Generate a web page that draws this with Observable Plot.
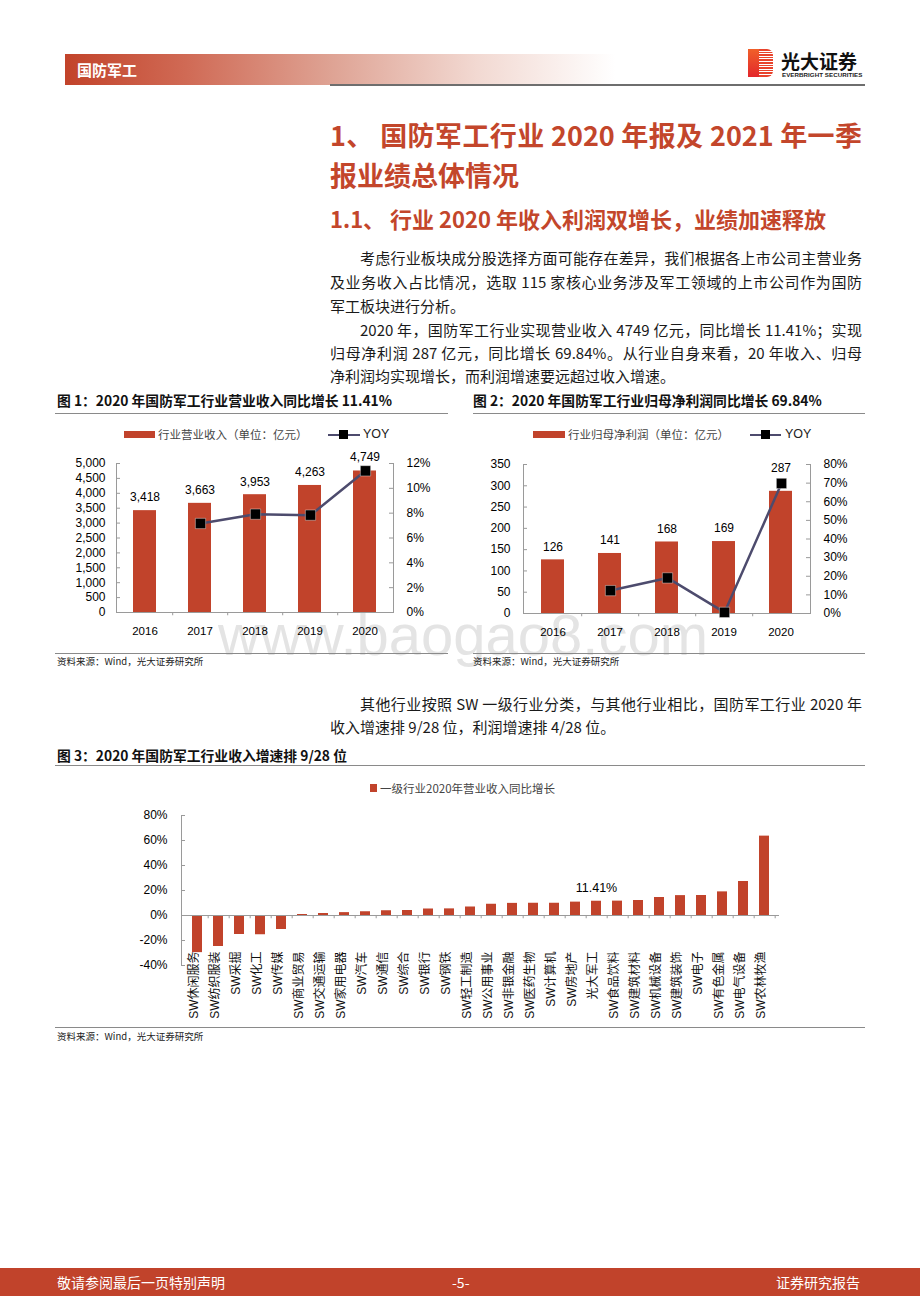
<!DOCTYPE html>
<html><head><meta charset="utf-8">
<script src="https://cdn.jsdelivr.net/npm/d3@7"></script>
<script src="https://cdn.jsdelivr.net/npm/@observablehq/plot@0.6"></script>
<style>
body{margin:0;background:#fff;}
#page{position:relative;width:920px;height:1302px;overflow:hidden;font-family:"Noto Sans CJK SC","Noto Sans",sans-serif;color:#111;}
.a{position:absolute;white-space:nowrap;}
.j{text-align:justify;text-align-last:justify;}
.body{font-size:15px;line-height:24px;color:#1a1a1a;}
.figt{font-size:13.8px;font-weight:bold;line-height:20px;color:#111;}
.rule{position:absolute;height:1px;background:#8a8a8a;}
.src{font-size:9.5px;line-height:14px;color:#222;}
.leg{font-size:11.5px;line-height:16px;color:#444;}
.chart{position:absolute;}
.chart svg{overflow:visible;}
</style></head>
<body><div id="page">
<!-- header -->
<div class="a" style="left:65px;top:54px;width:550px;height:31px;background:linear-gradient(to right,#c2432a 0%,#d06a55 22%,#dea293 48%,#f2d9d2 75%,#ffffff 100%);"></div>
<div class="a" style="left:77px;top:59px;font-size:15px;line-height:22px;font-weight:bold;color:#fff;">国防军工</div>
<div class="a" style="left:330px;top:84px;width:535px;height:1.5px;background:#6e6e6e;"></div>
<div class="a" style="left:748px;top:49px;width:11px;height:28px;background:linear-gradient(to bottom,#f0602a,#e3262b);"></div>
<div class="a" style="left:759px;top:49px;width:14px;height:28px;background:repeating-linear-gradient(to bottom,#e8432c 0px,#e8432c 1.6px,#ffffff 1.6px,#ffffff 2.6px);border-radius:0 6px 6px 0;"></div>
<div class="a" style="left:781px;top:49px;font-size:19px;line-height:24px;font-weight:bold;color:#111;">光大证券</div>
<div class="a" style="left:782px;top:71px;font-size:6.2px;line-height:8px;font-weight:bold;color:#222;font-family:'Liberation Sans',sans-serif;letter-spacing:0.05px;">EVERBRIGHT SECURITIES</div>

<!-- headings -->
<div class="a j" style="left:330px;top:115px;width:532px;font-size:27px;line-height:40px;font-weight:bold;color:#c3462b;">1、 国防军工行业 2020 年报及 2021 年一季</div>
<div class="a" style="left:330px;top:155px;font-size:27px;line-height:40px;font-weight:bold;color:#c3462b;">报业绩总体情况</div>
<div class="a" style="left:330px;top:202px;font-size:22px;line-height:32px;font-weight:bold;color:#c3462b;">1.1、 行业 2020 年收入利润双增长，业绩加速释放</div>

<!-- paragraphs -->
<div class="a body j" style="left:360px;top:246px;width:502px;">考虑行业板块成分股选择方面可能存在差异，我们根据各上市公司主营业务</div>
<div class="a body j" style="left:330px;top:270px;width:532px;">及业务收入占比情况，选取 115 家核心业务涉及军工领域的上市公司作为国防</div>
<div class="a body" style="left:330px;top:294px;">军工板块进行分析。</div>
<div class="a body j" style="left:360px;top:318px;width:502px;">2020 年，国防军工行业实现营业收入 4749 亿元，同比增长 11.41%；实现</div>
<div class="a body j" style="left:330px;top:341px;width:532px;">归母净利润 287 亿元，同比增长 69.84%。从行业自身来看，20 年收入、归母</div>
<div class="a body" style="left:330px;top:364px;">净利润均实现增长，而利润增速要远超过收入增速。</div>

<!-- watermark -->
<div class="a" style="left:218px;top:606px;font-size:58px;line-height:58px;color:#e4e4e4;font-family:'Liberation Sans',sans-serif;z-index:0;">www.baogao8.com</div>

<!-- figure 1 -->
<div class="a figt" style="left:57px;top:390px;">图 1：2020 年国防军工行业营业收入同比增长 11.41%</div>
<div class="rule" style="left:55px;top:413px;width:393px;"></div>
<div class="a" style="left:124px;top:431px;width:31px;height:7px;background:#c1432b;"></div>
<div class="a leg" style="left:158px;top:426px;">行业营业收入（单位：亿元）</div>
<div class="a" style="left:328px;top:434px;width:32px;height:2px;background:#4d4b6d;"></div>
<div class="a" style="left:339px;top:430px;width:9px;height:9px;background:#000;"></div>
<div class="a" style="left:363px;top:426px;font-size:12.5px;line-height:16px;color:#222;font-family:'Liberation Sans',sans-serif;">YOY</div>
<div class="chart" id="c1a" style="left:55px;top:445px;width:395px;height:200px;z-index:1;"></div>
<div class="chart" id="c1b" style="left:55px;top:445px;width:395px;height:200px;z-index:2;"></div>
<div class="rule" style="left:55px;top:653px;width:393px;"></div>
<div class="a src" style="left:57px;top:654px;">资料来源：Wind，光大证券研究所</div>

<!-- figure 2 -->
<div class="a figt" style="left:473px;top:390px;">图 2：2020 年国防军工行业归母净利润同比增长 69.84%</div>
<div class="rule" style="left:473px;top:413px;width:392px;"></div>
<div class="a" style="left:533px;top:431px;width:32px;height:7px;background:#c1432b;"></div>
<div class="a leg" style="left:568px;top:426px;">行业归母净利润（单位：亿元）</div>
<div class="a" style="left:750px;top:434px;width:31px;height:2px;background:#4d4b6d;"></div>
<div class="a" style="left:761px;top:430px;width:9px;height:9px;background:#000;"></div>
<div class="a" style="left:785px;top:426px;font-size:12.5px;line-height:16px;color:#222;font-family:'Liberation Sans',sans-serif;">YOY</div>
<div class="chart" id="c2a" style="left:465px;top:445px;width:400px;height:200px;z-index:1;"></div>
<div class="chart" id="c2b" style="left:465px;top:445px;width:400px;height:200px;z-index:2;"></div>
<div class="rule" style="left:473px;top:653px;width:392px;"></div>
<div class="a src" style="left:473px;top:654px;">资料来源：Wind，光大证券研究所</div>

<!-- paragraph 3 -->
<div class="a body j" style="left:360px;top:692px;width:502px;">其他行业按照 SW 一级行业分类，与其他行业相比，国防军工行业 2020 年</div>
<div class="a body" style="left:330px;top:715px;">收入增速排 9/28 位，利润增速排 4/28 位。</div>

<!-- figure 3 -->
<div class="a figt" style="left:57px;top:745px;">图 3：2020 年国防军工行业收入增速排 9/28 位</div>
<div class="rule" style="left:55px;top:765px;width:810px;"></div>
<div class="a" style="left:370px;top:784px;width:7px;height:8px;background:#c1432b;"></div>
<div class="a leg" style="left:380px;top:780px;">一级行业2020年营业收入同比增长</div>
<div class="chart" id="c3" style="left:55px;top:800px;width:810px;height:225px;z-index:1;"></div>
<div class="rule" style="left:55px;top:1027px;width:810px;"></div>
<div class="a src" style="left:57px;top:1029px;">资料来源：Wind，光大证券研究所</div>

<!-- footer -->
<div class="a" style="left:0;top:1268px;width:920px;height:28px;background:#c1432b;"></div>
<div class="a" style="left:57px;top:1272px;font-size:14px;line-height:20px;color:#fff;">敬请参阅最后一页特别声明</div>
<div class="a" style="left:452px;top:1272px;font-size:14px;line-height:20px;color:#fff;">-5-</div>
<div class="a" style="left:776px;top:1272px;font-size:14px;line-height:20px;color:#fff;">证券研究报告</div>
</div>

<script>
// ---------- data ----------
const years = ["2016", "2017", "2018", "2019", "2020"];
const revenue = [3418, 3663, 3953, 4263, 4749];
const revenueYoy = [null, 7.17, 7.92, 7.84, 11.41];
const profit = [126, 141, 168, 169, 287];
const profitYoy = [null, 12.3, 19.1, 0.6, 69.84];
const revTicks = [0, 500, 1000, 1500, 2000, 2500, 3000, 3500, 4000, 4500, 5000];
const revYoyTicks = [0, 2, 4, 6, 8, 10, 12];
const profitTicks = [0, 50, 100, 150, 200, 250, 300, 350];
const profitYoyTicks = [0, 10, 20, 30, 40, 50, 60, 70, 80];
const industries = ["SW休闲服务", "SW纺织服装", "SW采掘", "SW化工", "SW传媒", "SW商业贸易", "SW交通运输", "SW家用电器", "SW汽车", "SW通信", "SW综合", "SW银行", "SW钢铁", "SW轻工制造", "SW公用事业", "SW非银金融", "SW医药生物", "SW计算机", "SW房地产", "光大军工", "SW食品饮料", "SW建筑材料", "SW机械设备", "SW建筑装饰", "SW电子", "SW有色金属", "SW电气设备", "SW农林牧渔"];
const industryGrowth = [-29.7, -24.8, -15.2, -15.4, -11.2, 0.8, 1.6, 2.3, 3.0, 3.8, 4.0, 5.2, 5.3, 6.8, 9.0, 9.7, 9.8, 9.8, 10.7, 11.41, 11.5, 12.0, 14.4, 15.9, 16.0, 18.9, 27.2, 63.5];
const industryTicks = [-40, -20, 0, 20, 40, 60, 80];
const highlight = "光大军工";

// ---------- styles ----------
const RED = "#c1432b";
const LINE = "#4d4b6d";
const AXIS = "#9a9a9a";
const FONT = "'Liberation Sans', Arial, 'Noto Sans CJK SC', sans-serif";
const baseStyle = {fontFamily: FONT, fontSize: "12px", color: "#000", background: "transparent", overflow: "visible"};
const pct = d => d + "%";

function dualChart(el1, el2, opts) {
  const {w, h, ml, mr, mt, mb, pi, rows, barMax, barTicks, barFmt, yoyMax, yoyTicks, leftPad, lastDy} = opts;
  const fw = w - ml - mr;
  const step = fw / years.length;
  const xs = {domain: years, paddingInner: pi, paddingOuter: pi / 2, axis: null};
  const last = years[years.length - 1];
  const bars = Plot.plot({
    width: w, height: h, marginLeft: ml, marginRight: mr, marginTop: mt, marginBottom: mb,
    style: baseStyle,
    x: xs,
    y: {domain: [0, barMax], axis: null},
    marks: [
      Plot.barY(rows, {x: "year", y: "value", fill: RED}),
      Plot.ruleY([0], {stroke: AXIS}),
      Plot.ruleX(years.slice(0, -1), {x: d => d, y1: 0, y2: -barMax * 0.022, dx: step / 2, stroke: AXIS}),
      Plot.frame({anchor: "left", stroke: AXIS}),
      Plot.ruleY(barTicks, {y: d => d, insetRight: fw - 4, stroke: AXIS}),
      Plot.axisY({ticks: barTicks, tickFormat: barFmt, tickSize: 0, tickPadding: leftPad, label: null, fontSize: 12}),
      Plot.axisX({tickSize: 0, tickPadding: 14, label: null, fontSize: 11.5}),
      Plot.text(rows.filter(d => d.year !== last), {x: "year", y: "value", text: d => barFmt(d.value), dy: -13, fontSize: 12, fill: "#000"}),
      Plot.text(rows.filter(d => d.year === last), {x: "year", y: "value", text: d => barFmt(d.value), dy: lastDy, fontSize: 12, fill: "#000"})
    ]
  });
  el1.append(bars);
  const yoyRows = rows.filter(d => d.yoy != null);
  const line = Plot.plot({
    width: w, height: h, marginLeft: ml, marginRight: mr, marginTop: mt, marginBottom: mb,
    style: baseStyle,
    x: xs,
    y: {domain: [0, yoyMax], axis: null},
    marks: [
      Plot.frame({anchor: "right", stroke: AXIS}),
      Plot.ruleY(yoyTicks, {y: d => d, insetLeft: fw - 4, stroke: AXIS}),
      Plot.axisY({anchor: "right", ticks: yoyTicks, tickFormat: pct, tickSize: 0, tickPadding: 13, label: null, fontSize: 12}),
      Plot.line(yoyRows, {x: "year", y: "yoy", stroke: LINE, strokeWidth: 2.5}),
      Plot.dot(yoyRows, {x: "year", y: "yoy", symbol: "square", r: 5.8, fill: "#000", stroke: "#fff", strokeWidth: 0.4})
    ]
  });
  el2.append(line);
}

dualChart(document.getElementById("c1a"), document.getElementById("c1b"), {
  w: 395, h: 200, ml: 61, mr: 57, mt: 18, mb: 33, pi: 0.59,
  rows: years.map((year, i) => ({year, value: revenue[i], yoy: revenueYoy[i]})),
  barMax: 5000, barTicks: revTicks, barFmt: d3.format(","), yoyMax: 12, yoyTicks: revYoyTicks, leftPad: 11, lastDy: -14
});

dualChart(document.getElementById("c2a"), document.getElementById("c2b"), {
  w: 400, h: 200, ml: 58, mr: 55, mt: 19, mb: 32, pi: 0.6,
  rows: years.map((year, i) => ({year, value: profit[i], yoy: profitYoy[i]})),
  barMax: 350, barTicks: profitTicks, barFmt: d3.format(","), yoyMax: 80, yoyTicks: profitYoyTicks, leftPad: 13, lastDy: -23
});

// ---------- chart 3 ----------
(function () {
  const w = 810, h = 225, ml = 126, mr = 86, mt = 15, mb = 60;
  const fw = w - ml - mr;
  const step = fw / industries.length;
  const rows = industries.map((name, i) => ({name, value: industryGrowth[i]}));
  const chart = Plot.plot({
    width: w, height: h, marginLeft: ml, marginRight: mr, marginTop: mt, marginBottom: mb,
    style: baseStyle,
    x: {domain: industries, paddingInner: 0.53, paddingOuter: 0.265, axis: null},
    y: {domain: [-40, 80], axis: null},
    marks: [
      Plot.barY(rows, {x: "name", y: "value", fill: RED}),
      Plot.ruleY([0], {stroke: AXIS}),
      Plot.ruleX(industries, {x: d => d, y1: 0, y2: -2.6, dx: step / 2, stroke: AXIS}),
      Plot.frame({anchor: "left", stroke: AXIS}),
      Plot.ruleY(industryTicks, {y: d => d, insetRight: fw - 4, stroke: AXIS}),
      Plot.axisY({ticks: industryTicks, tickFormat: pct, tickSize: 0, tickPadding: 14, label: null, fontSize: 12}),
      Plot.text(industries, {x: d => d, frameAnchor: "bottom", rotate: -90, textAnchor: "end", dy: -14, fontSize: 12, fill: "#111"}),
      Plot.text(rows.filter(d => d.name === highlight), {x: "name", y: "value", text: d => d.value.toFixed(2) + "%", dy: -13, fontSize: 12.5, fill: "#000"})
    ]
  });
  document.getElementById("c3").append(chart);
})();
</script>
</body></html>
